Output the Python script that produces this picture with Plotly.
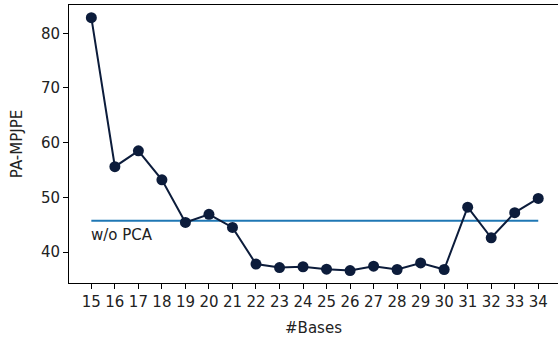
import plotly.graph_objects as go

bases = list(range(15, 35))
pa_mpjpe = [82.85, 55.6, 58.5, 53.2, 45.4, 46.9, 44.5, 37.8, 37.15, 37.3,
            36.85, 36.6, 37.4, 36.8, 38.0, 36.8, 48.2, 42.6, 47.2, 49.8]
baseline_value = 45.7
baseline_label = "w/o PCA"

navy = "#0c1c3b"
fig = go.Figure()
fig.add_trace(go.Scatter(
    x=[bases[0], bases[-1]], y=[baseline_value, baseline_value],
    mode="lines", line=dict(color="#1f77b4", width=2), showlegend=False,
))
fig.add_trace(go.Scatter(
    x=bases, y=pa_mpjpe, mode="lines+markers",
    line=dict(color=navy, width=2),
    marker=dict(color=navy, size=11),
    showlegend=False,
))
fig.add_annotation(
    x=bases[0], y=baseline_value, text=baseline_label, showarrow=False,
    xanchor="left", yanchor="top", yshift=-3, xshift=-2,
    font=dict(size=15, color="#222"),
)
fig.update_layout(
    width=558, height=339,
    margin=dict(l=69, r=0, t=5, b=56, autoexpand=False),
    plot_bgcolor="white", paper_bgcolor="white",
    font=dict(family="DejaVu Sans", size=15, color="#222"),
)
fig.update_xaxes(
    range=[14.05, 34.84], tickmode="array", tickvals=bases,
    ticktext=[str(b) for b in bases], automargin=False,
    showgrid=False, zeroline=False, showline=True, linecolor="black",
    linewidth=1, mirror=True, ticks="outside", ticklen=5, tickcolor="black",
    title=dict(text="#Bases", font=dict(size=15), standoff=12),
)
fig.update_yaxes(
    range=[34.33, 85.17], tickvals=[40, 50, 60, 70, 80], automargin=False,
    showgrid=False, zeroline=False, showline=True, linecolor="black",
    linewidth=1, ticks="outside", ticklen=5, tickcolor="black",
    title=dict(text="PA-MPJPE", font=dict(size=15), standoff=14),
)
fig.write_html(
    "out.html",
    config={"displayModeBar": False},
    post_script="document.body.style.margin='0';document.body.style.overflow='hidden';",
)
